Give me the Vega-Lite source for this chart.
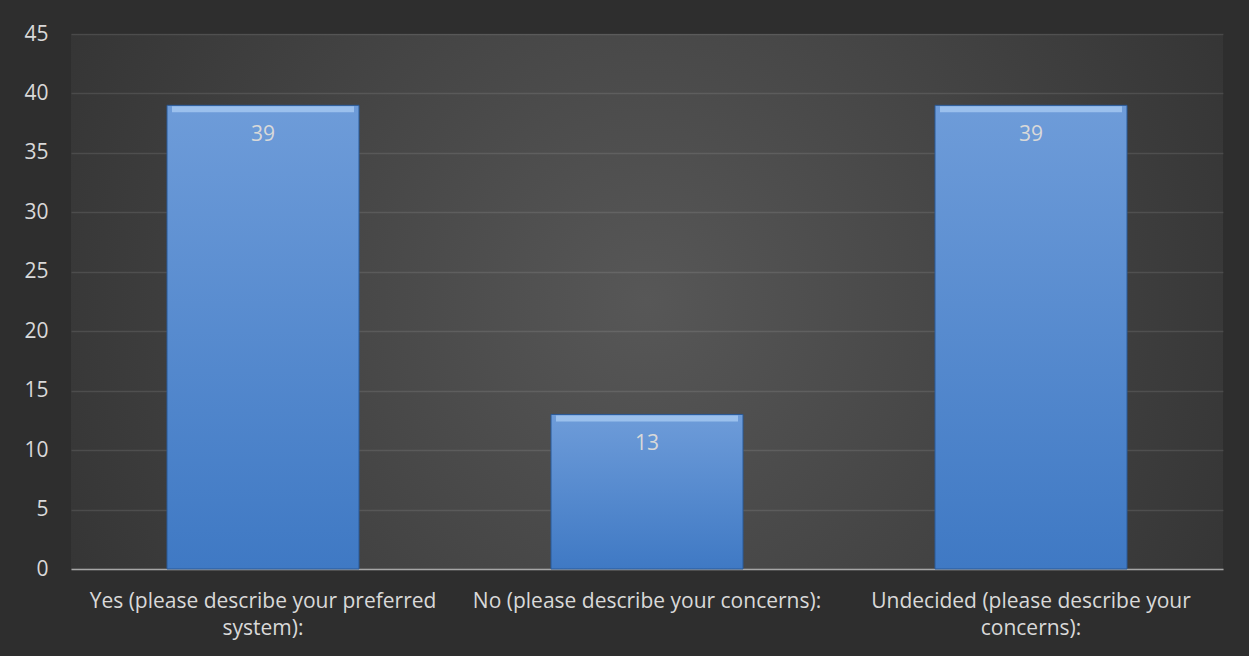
{
  "$schema": "https://vega.github.io/schema/vega-lite/v6.json",
  "autosize": "none",
  "width": 1152,
  "height": 535,
  "padding": {"left": 71, "top": 34, "right": 26, "bottom": 87},
  "background": "#2e2e2e",
  "config": {
    "view": {
      "stroke": null,
      "fill": {
        "gradient": "radial",
        "x1": 0.5, "y1": 0.5, "r1": 0,
        "x2": 0.5, "y2": 0.5, "r2": 0.72,
        "stops": [
          {"offset": 0, "color": "#575757"},
          {"offset": 1, "color": "#2b2b2b"}
        ]
      }
    },
    "font": "Open Sans"
  },
  "data": {
    "values": [
      {"category": "Yes (please describe your preferred system):", "count": 39},
      {"category": "No (please describe your concerns):", "count": 13},
      {"category": "Undecided (please describe your concerns):", "count": 39}
    ]
  },
  "encoding": {
    "x": {
      "field": "category",
      "type": "nominal",
      "sort": null,
      "scale": {"paddingInner": 0.5, "paddingOuter": 0.25},
      "axis": {
        "title": null,
        "labelAngle": 0,
        "labelColor": "#d9d9d9",
        "labelFontSize": 21,
        "labelFont": "Open Sans",
        "labelLimit": 0,
        "labelPadding": 21,
        "labelBaseline": "top",
        "labelLineHeight": 27,
        "ticks": false,
        "domainColor": "#a6a6a6",
        "domainWidth": 1.5,
        "labelExpr": "datum.label == 'Yes (please describe your preferred system):' ? ['Yes (please describe your preferred', 'system):'] : datum.label == 'Undecided (please describe your concerns):' ? ['Undecided (please describe your', 'concerns):'] : datum.label"
      }
    },
    "y": {
      "field": "count",
      "type": "quantitative",
      "scale": {"domain": [0, 45], "nice": false},
      "axis": {
        "title": null,
        "values": [0, 5, 10, 15, 20, 25, 30, 35, 40, 45],
        "labelColor": "#d9d9d9",
        "labelFontSize": 21,
        "labelFont": "Open Sans",
        "labelPadding": 23,
        "ticks": false,
        "domain": false,
        "gridColor": "#ffffff",
        "gridOpacity": 0.1,
        "gridWidth": 1.5
      }
    }
  },
  "layer": [
    {
      "mark": {
        "type": "bar",
        "stroke": "#2a5a98",
        "strokeWidth": 1,
        "fill": {
          "x1": 0, "y1": 0, "x2": 0, "y2": 1,
          "gradient": "linear",
          "stops": [
            {"offset": 0, "color": "#6e9cd9"},
            {"offset": 1, "color": "#3f79c4"}
          ]
        }
      }
    },
    {
      "mark": {"type": "tick", "orient": "horizontal", "color": "#a6c9f1", "thickness": 6, "yOffset": 4, "opacity": 0.8},
      "encoding": {"size": {"value": 182}}
    },
    {
      "mark": {"type": "text", "baseline": "middle", "dy": 30, "color": "#d9d9d9", "fontSize": 21, "font": "Open Sans"},
      "encoding": {"text": {"field": "count", "type": "quantitative"}}
    }
  ]
}
